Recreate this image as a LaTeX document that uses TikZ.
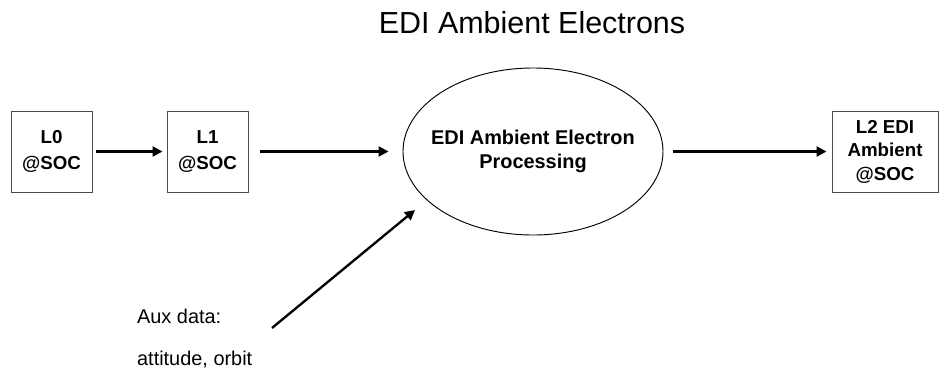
\documentclass[tikz,border=0pt]{standalone}
\usepackage{fontspec}
\setmainfont{Liberation Sans}
\usetikzlibrary{arrows.meta,shapes.geometric}

\begin{document}
\begin{tikzpicture}[x=0.03cm,y=-0.03cm,
  every node/.style={font=\fontsize{16}{20}\selectfont\bfseries},
  levelbox/.style={draw=black!70,line width=0.8pt,align=center,inner sep=0pt,minimum height=2.43cm},
  flow/.style={-{Triangle[length=0.3cm,width=0.3cm]},line width=2pt}]
\useasboundingbox (0,0) rectangle (939,379);
\node[anchor=base,font=\fontsize{26}{30}\selectfont] (title) at (532,33) {EDI Ambient Electrons};
\node[levelbox,minimum width=2.43cm,font=\fontsize{16}{22}\selectfont\bfseries] (lzero) at (51.5,151.5) {L0\\@SOC};
\node[levelbox,minimum width=2.43cm,font=\fontsize{16}{22}\selectfont\bfseries] (lone) at (207.5,151.5) {L1\\@SOC};
\node[ellipse,draw,line width=0.8pt,inner xsep=-0.5cm,inner ysep=0pt,minimum width=7.8cm,minimum height=5.01cm,align=center,
  font=\fontsize{17}{21}\selectfont\bfseries] (proc) at (533,151.5) {EDI Ambient Electron\\Processing};
\node[levelbox,minimum width=3.18cm] (ltwo) at (885,151.5) {L2 EDI\\Ambient\\@SOC};
\node[anchor=base west,font=\fontsize{17}{20}\selectfont] (auxa) at (133,323) {Aux data:};
\node[anchor=base west,font=\fontsize{17}{20}\selectfont] (auxb) at (133,365) {attitude, orbit};
\coordinate (auxtail) at (272,328);
\coordinate (auxtip) at (415,210);
\draw[flow,shorten <=0.12cm,shorten >=0.12cm] (lzero) -- (lone);
\draw[flow,shorten <=0.36cm,shorten >=0.42cm] (lone) -- (proc);
\draw[flow,shorten <=0.3cm,shorten >=0.15cm] (proc) -- (ltwo);
\draw[flow] (auxtail) -- (auxtip);
\end{tikzpicture}
\end{document}
